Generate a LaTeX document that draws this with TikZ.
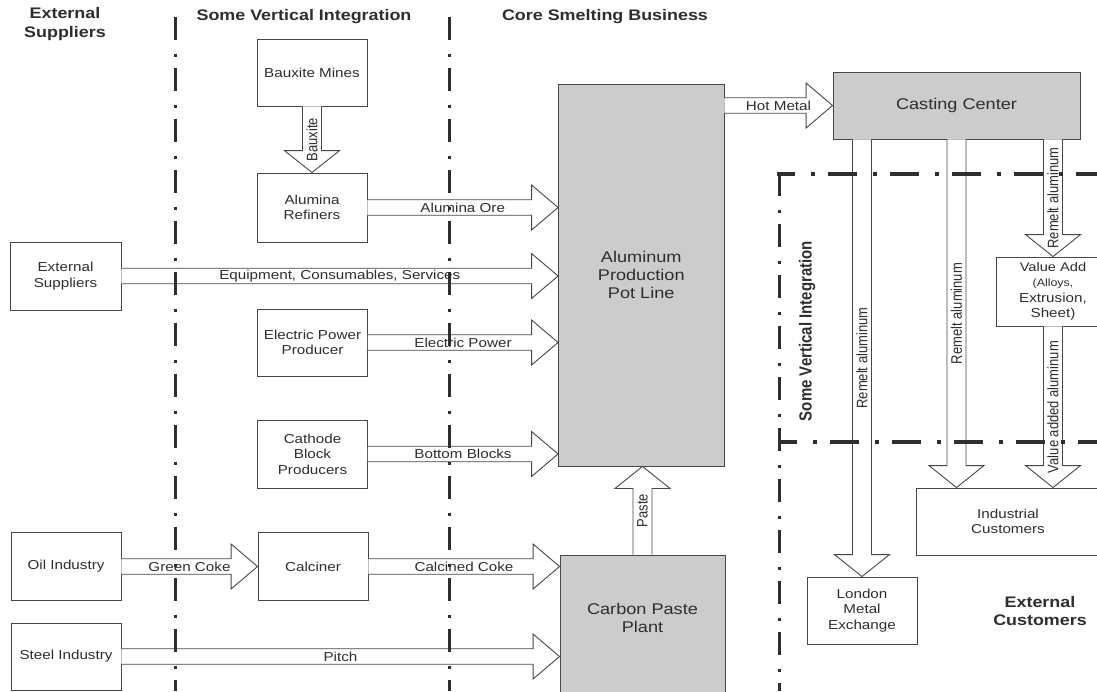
\documentclass[tikz,border=0pt]{standalone}
\usepackage{fontspec}
\setmainfont{Liberation Sans}[FakeStretch=1.17]
\newfontfamily\rotfont{Liberation Sans}
\usetikzlibrary{calc}
\definecolor{ink}{HTML}{2E2E2E}
\definecolor{edge}{HTML}{474747}
\definecolor{shade}{HTML}{CCCCCC}
\tikzset{
  box/.style={draw=edge, line width=0.9pt, fill=white, inner sep=0pt, align=center, text=ink,
              font=\fontsize{13}{15.5}\selectfont},
  gbox/.style={box, fill=shade, font=\fontsize{15.5}{18}\selectfont},
  gtext/.style={inner sep=0pt, align=center, text=ink, font=\fontsize{15.5}{18}\selectfont},
  hdr/.style={inner sep=0pt, align=center, text=ink, font=\bfseries\fontsize{15.3}{18.5}\selectfont},
  barrow/.style={draw=edge, line width=0.9pt, fill=white, line join=miter},
  alab/.style={inner sep=0pt, text=ink, font=\fontsize{13}{15}\selectfont},
  vlab/.style={inner sep=0pt, text=ink, rotate=90, font=\rotfont\fontsize{13}{15}\selectfont},
  vsep/.style={draw=ink, line width=3pt, dash pattern=on 23pt off 14pt on 3pt off 11pt},
  hsep/.style={draw=ink, line width=3.2pt, dash pattern=on 29pt off 16pt on 4pt off 13pt, dash phase=11pt}
}
\newcommand\blockarrow[5]{%
  \coordinate (ba-h) at ($(#2)!#5!(#1)$);
  \draw[barrow] ($(#1)!#3!90:(#2)$) -- ($(ba-h)!#3!-90:(#1)$) -- ($(ba-h)!#4!-90:(#1)$)
     -- (#2) -- ($(ba-h)!#4!90:(#1)$) -- ($(ba-h)!#3!90:(#1)$) -- ($(#1)!#3!-90:(#2)$);
}
\newcommand\harrow[3]{\blockarrow{#1}{#2}{7.75pt}{22.5pt}{26.5pt}%
  \node[alab] at ($(#1)!0.5!(#2)$) {#3};}
\newcommand\varrow[3]{\blockarrow{#1}{#2}{9.5pt}{27.5pt}{22pt}%
  \node[vlab] at ($(#1)!0.5!(#2)$) {\scalebox{1}[1.17]{#3}};}
\begin{document}
\begin{tikzpicture}[x=1pt, y=-1pt]
\useasboundingbox (0,0) rectangle (1097,691);
\clip (0,0) rectangle (1097,691);
\fill[white] (0,0) rectangle (1097,691);

% headers
\node[hdr] (h1) at (65,24) {External\\Suppliers};
\node[hdr] (h2) at (304,17) {Some Vertical Integration};
\node[hdr] (h3) at (605,17) {Core Smelting Business};
\node[hdr] (h4) at (1040,611) {External\\Customers};
\node[hdr, rotate=90, font=\rotfont\bfseries\fontsize{15}{18}\selectfont] (h5) at (807,331)
  {\scalebox{1}[1.17]{Some Vertical Integration}};

% boxes
\node[box, minimum width=110, minimum height=67] (BM) at (312,72.5) {Bauxite Mines};
\node[box, minimum width=110, minimum height=69] (AR) at (312,207.5) {Alumina\\Refiners};
\node[box, minimum width=111, minimum height=68] (ES) at (65.5,276) {External\\Suppliers};
\node[box, minimum width=110, minimum height=67] (EPP) at (312.5,342.5) {Electric Power\\Producer};
\node[box, minimum width=110, minimum height=68] (CBP) at (312.5,454) {Cathode\\Block\\Producers};
\node[box, minimum width=110, minimum height=68] (OI) at (66,566.5) {Oil Industry};
\node[box, minimum width=110, minimum height=68] (CA) at (313,566.5) {Calciner};
\node[box, minimum width=110, minimum height=67] (SI) at (66,656.5) {Steel Industry};
\node[gbox, minimum width=165.5, minimum height=382] (PL) at (641.25,275) {Aluminum\\Production\\Pot Line};
\node[gbox, minimum width=165, minimum height=140] (CP) at (642.5,625) {};
\node[gtext] (CPt) at (642.5,618) {Carbon Paste\\Plant};
\node[gbox, minimum width=247, minimum height=67] (CC) at (956.5,105.5) {Casting Center};
\node[box, minimum width=114, minimum height=69] (VA) at (1053,291.5)
  {\fontsize{12.5}{14}\selectfont Value Add\\\fontsize{10.6}{12.8}\selectfont (Alloys,\\Extrusion,\\Sheet)};
\node[box, minimum width=184, minimum height=67] (IC) at (1008,521.5) {Industrial\\Customers};
\node[box, minimum width=110, minimum height=67] (LME) at (862,610.5) {London\\Metal\\Exchange};

% connector end coordinates
\coordinate (aoT) at (AR.east -| PL.west);
\coordinate (esT) at (ES.east -| PL.west);
\coordinate (epT) at (EPP.east -| PL.west);
\coordinate (bbT) at (CBP.east -| PL.west);
\coordinate (ccT) at (CA.east -| CP.west);
\coordinate (piT) at (SI.east -| CP.west);
\coordinate (paT) at (CP.north |- PL.south);
\coordinate (hmS) at (PL.east |- CC.west);
\coordinate (r1S) at (CC.south -| LME.north);
\coordinate (r2T) at (CC.south |- IC.north);
\coordinate (r3S) at (CC.south -| VA.north);
\coordinate (vaT) at (VA.south |- IC.north);

% block arrows
\varrow{BM.south}{AR.north}{Bauxite}
\harrow{AR.east}{aoT}{Alumina Ore}
\harrow{ES.east}{esT}{Equipment, Consumables, Services}
\harrow{EPP.east}{epT}{Electric Power}
\harrow{CBP.east}{bbT}{Bottom Blocks}
\harrow{OI.east}{CA.west}{Green Coke}
\harrow{CA.east}{ccT}{Calcined Coke}
\harrow{SI.east}{piT}{Pitch}
\varrow{CP.north}{paT}{Paste}
\harrow{hmS}{CC.west}{Hot Metal}
\varrow{r1S}{LME.north}{Remelt aluminum}
\varrow{CC.south}{r2T}{Remelt aluminum}
\varrow{r3S}{VA.north}{Remelt aluminum}
\varrow{VA.south}{vaT}{Value added aluminum}

% region separators
\draw[vsep] (175,16.7) -- (175,691);
\draw[vsep] (449,16.7) -- (449,691);
\draw[vsep] (779,172.5) -- (779,691);
\draw[hsep] (777.4,174) -- (1097,174);
\draw[hsep] (779,442) -- (1097,442);
\end{tikzpicture}
\end{document}
